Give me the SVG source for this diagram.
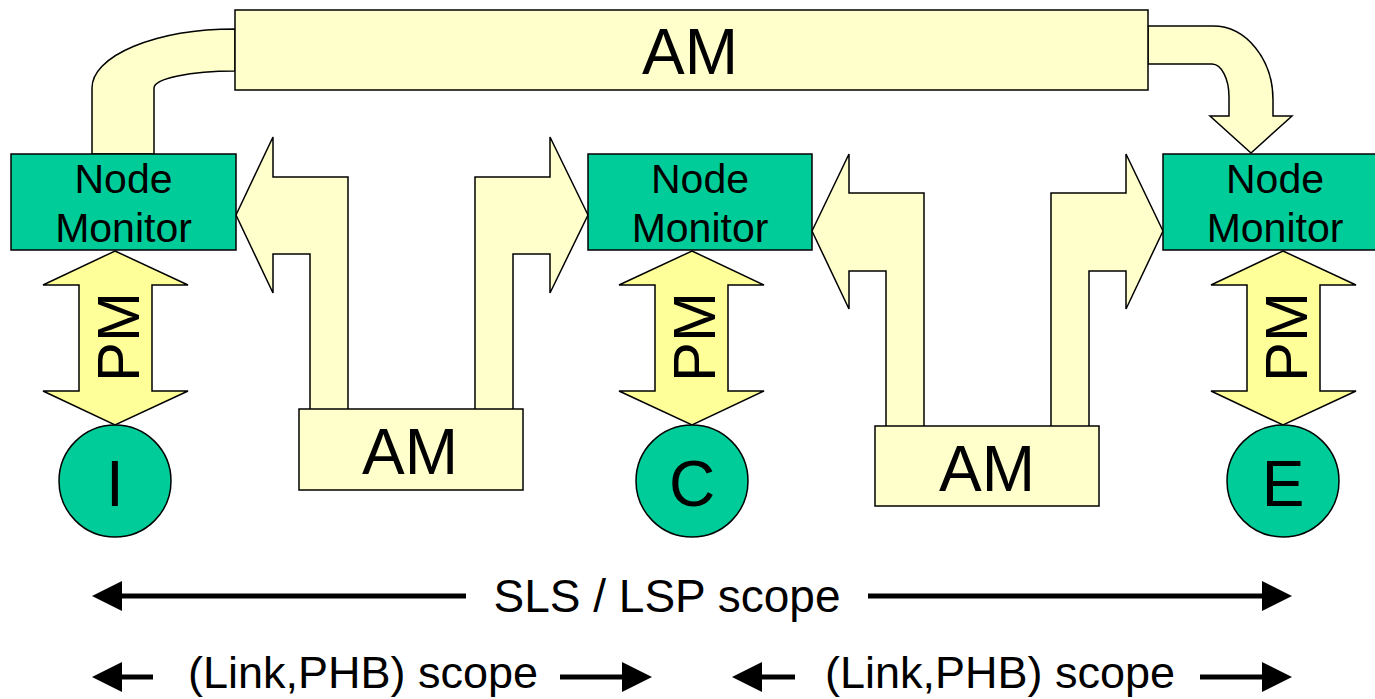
<svg xmlns="http://www.w3.org/2000/svg" width="1375" height="699" viewBox="0 0 1375 699">
<style>
.node{fill:#00CC99;stroke:#000;stroke-width:1.5}
.am{fill:#FFFFCC;stroke:#000;stroke-width:1.5}
.pm{fill:#FFFF99;stroke:#000;stroke-width:1.5}
.t{font-family:"Liberation Sans",Arial,sans-serif;fill:#000;text-anchor:middle}
.nt{font-size:41px}
.big{font-size:64px}
.pmt{font-size:60px}
.sc{font-size:46px}
.sc2{font-size:45px}
.ln{stroke:#000;stroke-width:5;fill:none}
.hd{fill:#000}
</style>
<rect width="1375" height="699" fill="#fff"/>
<g id="connectors">
  <path class="am" d="M235,29 A143,59 0 0 0 92,88 L92,154 L154,154 L154,88 A81,17 0 0 1 235,71 Z"/>
  <path class="am" d="M1148,26 L1213,26 A60,74 0 0 1 1273,100 L1273,116 L1292,116 L1251,153 L1210,116 L1229,116 L1229,97 A17,33 0 0 0 1212,64 L1148,64 Z"/>
  <path class="am" d="M236,215 L273,137 L273,177 L348,177 L348,410 L310,410 L310,254 L273,254 L273,293 Z"/>
  <path class="am" d="M588,215 L550,137 L550,177 L475,177 L475,410 L513,410 L513,254 L550,254 L550,293 Z"/>
  <path class="am" d="M812,231 L849,154 L849,193 L924,193 L924,427 L886,427 L886,271 L849,271 L849,309 Z"/>
  <path class="am" d="M1163,231 L1126,154 L1126,193 L1051,193 L1051,427 L1089,427 L1089,271 L1126,271 L1126,309 Z"/>
  <path class="pm" d="M115,251 L188,285 L152,285 L152,391 L188,391 L115,425 L43,391 L79,391 L79,285 L43,285 Z"/>
  <path class="pm" d="M692,251 L764,285 L728,285 L728,391 L764,391 L692,425 L619,391 L655,391 L655,285 L619,285 Z"/>
  <path class="pm" d="M1283,251 L1356,285 L1320,285 L1320,391 L1356,391 L1283,425 L1211,391 L1247,391 L1247,285 L1211,285 Z"/>
  <text class="t pmt" transform="translate(139,337) rotate(-90)">PM</text>
  <text class="t pmt" transform="translate(715,337) rotate(-90)">PM</text>
  <text class="t pmt" transform="translate(1307,337) rotate(-90)">PM</text>
</g>
<g id="am-top">
  <rect class="am" x="235" y="10" width="913" height="80"/>
  <text class="t big" x="690" y="74">AM</text>
</g>
<g id="am-left">
  <rect class="am" x="299" y="409" width="224" height="81"/>
  <text class="t big" x="410" y="474">AM</text>
</g>
<g id="am-right">
  <rect class="am" x="875" y="426" width="224" height="80"/>
  <text class="t big" x="987" y="491">AM</text>
</g>
<g id="node-monitor-1">
  <rect class="node" x="11" y="154" width="225" height="96"/>
  <text class="t nt" x="123.5" y="193">Node</text>
  <text class="t nt" x="123.5" y="242">Monitor</text>
</g>
<g id="node-monitor-2">
  <rect class="node" x="588" y="154" width="224" height="96"/>
  <text class="t nt" x="700" y="193">Node</text>
  <text class="t nt" x="700" y="242">Monitor</text>
</g>
<g id="node-monitor-3">
  <rect class="node" x="1163" y="154" width="225" height="96"/>
  <text class="t nt" x="1275" y="193">Node</text>
  <text class="t nt" x="1275" y="242">Monitor</text>
</g>
<g id="node-I">
  <circle class="node" cx="115" cy="481" r="56"/>
  <text class="t big" x="115" y="506">I</text>
</g>
<g id="node-C">
  <circle class="node" cx="692" cy="481" r="56"/>
  <text class="t big" x="692" y="506">C</text>
</g>
<g id="node-E">
  <circle class="node" cx="1283" cy="481" r="56"/>
  <text class="t big" x="1283" y="506">E</text>
</g>
<g id="scope-sls">
  <line class="ln" x1="118" y1="596" x2="466" y2="596"/>
  <polygon class="hd" points="92,596 122,581 122,611"/>
  <line class="ln" x1="868" y1="596" x2="1266" y2="596"/>
  <polygon class="hd" points="1292,596 1262,581 1262,611"/>
  <text class="t sc" x="667" y="612">SLS / LSP scope</text>
</g>
<g id="scope-link-1">
  <line class="ln" x1="118" y1="677" x2="153" y2="677"/>
  <polygon class="hd" points="92,677 122,662 122,692"/>
  <line class="ln" x1="560" y1="677" x2="626" y2="677"/>
  <polygon class="hd" points="652,677 622,662 622,692"/>
  <text class="t sc2" x="363" y="688">(Link,PHB) scope</text>
</g>
<g id="scope-link-2">
  <line class="ln" x1="758" y1="677" x2="795" y2="677"/>
  <polygon class="hd" points="732,677 762,662 762,692"/>
  <line class="ln" x1="1200" y1="677" x2="1266" y2="677"/>
  <polygon class="hd" points="1292,677 1262,662 1262,692"/>
  <text class="t sc2" x="1000" y="688">(Link,PHB) scope</text>
</g>
</svg>
